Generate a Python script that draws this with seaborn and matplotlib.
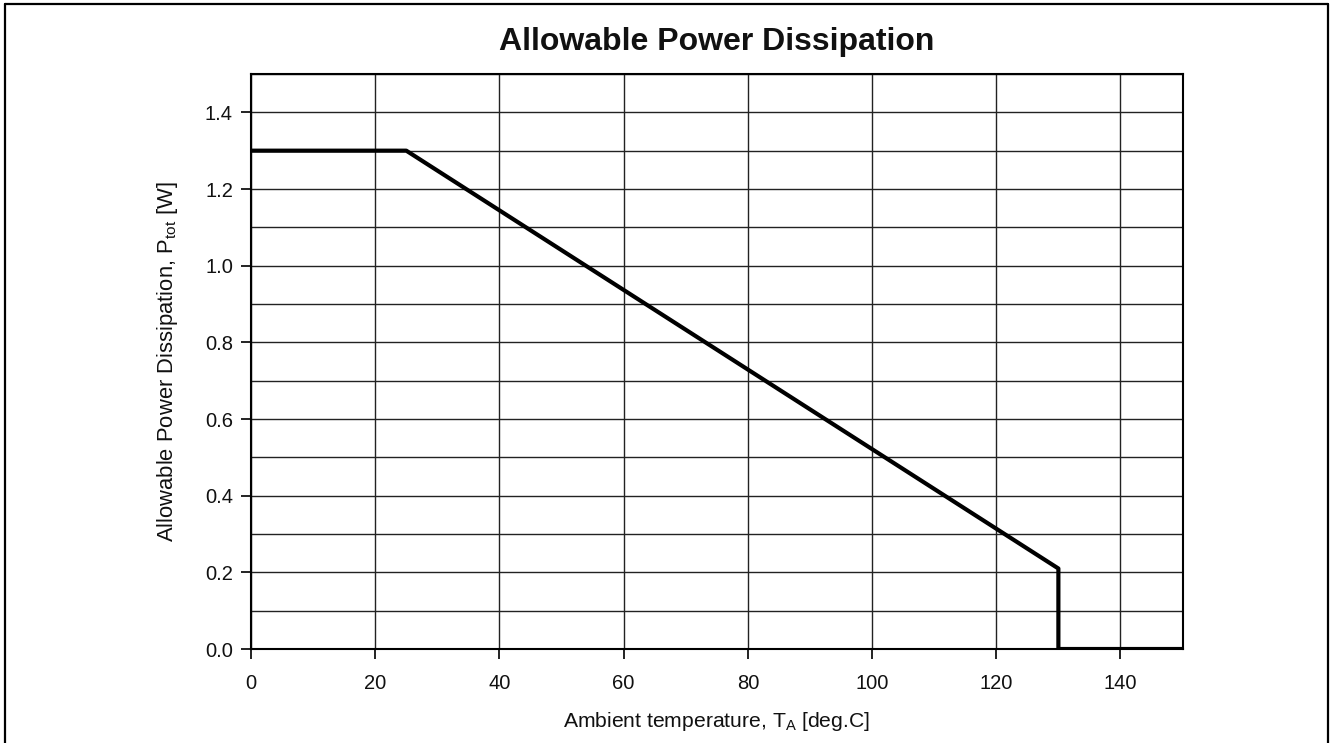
import matplotlib
matplotlib.use("Agg")
import matplotlib.pyplot as plt
import seaborn as sns
import pandas as pd
from matplotlib.lines import Line2D
from matplotlib.ticker import MultipleLocator, FormatStrFormatter

# derating curve points
temperature = [0, 25, 130, 130, 150]
power = [1.3, 1.3, 0.21, 0.0, 0.0]
x_ticks = [0, 20, 40, 60, 80, 100, 120, 140]
y_ticks = [0.0, 0.2, 0.4, 0.6, 0.8, 1.0, 1.2, 1.4]

df = pd.DataFrame({"T": temperature, "P": power})

sns.set_style("white")
plt.rcParams["font.family"] = ["Liberation Sans", "DejaVu Sans"]
plt.rcParams["mathtext.default"] = "regular"
plt.rcParams["text.color"] = "#111111"
plt.rcParams["axes.labelcolor"] = "#111111"
plt.rcParams["xtick.color"] = "#111111"
plt.rcParams["ytick.color"] = "#111111"
plt.rcParams["xtick.bottom"] = True
plt.rcParams["ytick.left"] = True
plt.rcParams["xtick.major.size"] = 7
plt.rcParams["ytick.major.size"] = 7
plt.rcParams["xtick.major.width"] = 1.3
plt.rcParams["ytick.major.width"] = 1.3

fig = plt.figure(figsize=(13.31, 7.43), dpi=100)
ax = fig.add_axes([0.1886, 0.1265, 0.6999, 0.7739])

sns.lineplot(data=df, x="T", y="P", sort=False, estimator=None,
             color="black", linewidth=3.0, ax=ax, zorder=5)

ax.set_xlim(0, 150)
ax.set_ylim(0, 1.5)
ax.set_xticks(x_ticks)
ax.set_yticks(y_ticks)
ax.yaxis.set_major_formatter(FormatStrFormatter("%.1f"))
ax.yaxis.set_minor_locator(MultipleLocator(0.1))
ax.grid(which="both", axis="y", color="#222222", linewidth=1.0)
ax.grid(which="major", axis="x", color="#222222", linewidth=1.0)
ax.tick_params(which="major", direction="out", labelsize=14.5)
ax.tick_params(axis="x", pad=11)
ax.tick_params(axis="y", pad=6)
ax.tick_params(which="minor", length=0)
for s in ax.spines.values():
    s.set_color("black")
    s.set_linewidth(1.5)

ax.set_xlabel("Ambient temperature, T$_A$ [deg.C]", fontsize=15.2, labelpad=12)
ax.set_ylabel("Allowable Power Dissipation, P$_{tot}$ [W]", fontsize=15.8, labelpad=18)
ax.set_title("Allowable Power Dissipation", fontsize=23, fontweight="bold", pad=17)

# frame around the figure (open at the bottom)
for xs, ys in [([0.0038, 0.0038], [-0.1, 0.9946]),
               ([0.0038, 0.9977], [0.9946, 0.9946]),
               ([0.9977, 0.9977], [0.9946, -0.1])]:
    fig.add_artist(Line2D(xs, ys, color="black", linewidth=1.6,
                          transform=fig.transFigure))

fig.savefig("out.png", dpi=100)
